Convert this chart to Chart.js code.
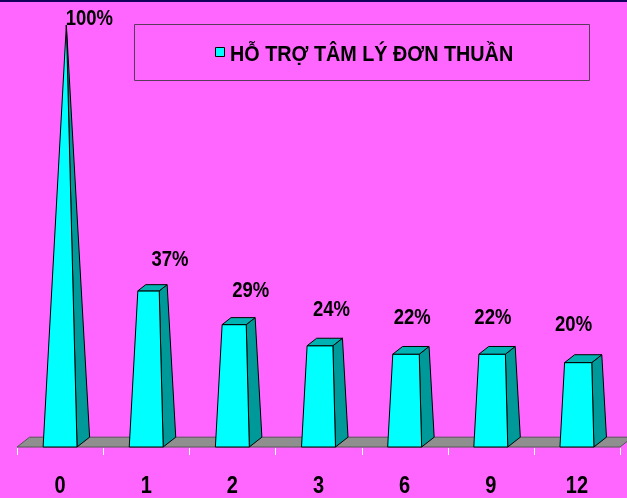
<!DOCTYPE html>
<html>
<head>
<meta charset="utf-8">
<script src="https://cdn.jsdelivr.net/npm/chart.js@4"></script>
<style>
  html, body { margin: 0; padding: 0; background: #FF66FF; }
  #wrap { width: 627px; height: 498px; position: relative; }
</style>
</head>
<body>
<div id="wrap"><canvas id="c" width="627" height="498"></canvas></div>
<script>
// Months of follow-up and share of patients on psychological support alone
const categories = ['0', '1', '2', '3', '6', '9', '12'];
const seriesName = 'HỖ TRỢ TÂM LÝ ĐƠN THUẦN';
const percentValues = [100, 37, 29, 24, 22, 22, 20];

const FONT = "'Liberation Sans', Arial, sans-serif";
const FRONT = '#00FFFF';
const SIDE = '#009999';
const TOP = '#00B2B2';

// Draws the text stretched vertically (tall, condensed look)
function tallText(ctx, text, x, y, size, sy, align) {
  ctx.save();
  ctx.font = 'bold ' + size + 'px ' + FONT;
  ctx.fillStyle = '#000';
  ctx.textAlign = align || 'center';
  ctx.textBaseline = 'alphabetic';
  ctx.translate(x, y);
  ctx.scale(1, sy);
  ctx.fillText(text, 0, 0);
  ctx.restore();
}

function poly(ctx, pts, fill) {
  ctx.beginPath();
  ctx.moveTo(pts[0][0], pts[0][1]);
  for (let i = 1; i < pts.length; i++) ctx.lineTo(pts[i][0], pts[i][1]);
  ctx.closePath();
  ctx.fillStyle = fill;
  ctx.fill();
  ctx.stroke();
}

const lerp = (a, b, t) => [a[0] + (b[0] - a[0]) * t, a[1] + (b[1] - a[1]) * t];

const pyramidPlugin = {
  id: 'pyramid3d',
  beforeDatasetsDraw(chart) {
    const ctx = chart.ctx;
    const xs = chart.scales.x, ys = chart.scales.y;
    const meta = chart.getDatasetMeta(0);
    const W = meta.data[0].width;
    const dx = 0.37 * W, dy = -0.29 * W;
    const y0 = ys.getPixelForValue(0);

    // top band
    ctx.save();
    ctx.fillStyle = '#14005C';
    ctx.fillRect(0, 0, chart.width, 2);

    // floor
    ctx.strokeStyle = '#555555';
    ctx.lineWidth = 1;
    poly(ctx, [[xs.left, y0], [xs.right, y0], [xs.right + dx, y0 + dy], [xs.left + dx, y0 + dy]], '#8F8F8F');

    // category boundary ticks
    ctx.strokeStyle = '#FFFFFF';
    ctx.beginPath();
    for (let i = 0; i <= categories.length; i++) {
      const x = Math.round(xs.left + (xs.right - xs.left) * i / categories.length) + 0.5;
      ctx.moveTo(x, y0 + 1);
      ctx.lineTo(x, y0 + 8);
    }
    ctx.stroke();
    ctx.restore();
  },
  afterDatasetsDraw(chart) {
    const ctx = chart.ctx;
    const xs = chart.scales.x, ys = chart.scales.y;
    const meta = chart.getDatasetMeta(0);
    const ymax = ys.max;
    const apexY = ys.getPixelForValue(ymax);

    ctx.save();
    ctx.strokeStyle = '#000000';
    ctx.lineWidth = 1;
    ctx.lineJoin = 'round';
    meta.data.forEach((el, i) => {
      const v = percentValues[i];
      const W = el.width, cx = el.x, y0 = el.base;
      const dx = 0.37 * W, dy = -0.29 * W;
      const FL = [cx - W / 2, y0], FR = [cx + W / 2, y0];
      const BR = [FR[0] + dx, y0 + dy], BL = [FL[0] + dx, y0 + dy];
      const A = [cx + dx / 2, apexY];
      const t = v / ymax;
      const FLt = lerp(FL, A, t), FRt = lerp(FR, A, t), BRt = lerp(BR, A, t), BLt = lerp(BL, A, t);
      poly(ctx, [FR, BR, BRt, FRt], SIDE);
      poly(ctx, [FL, FR, FRt, FLt], FRONT);
      if (t < 1) poly(ctx, [FLt, FRt, BRt, BLt], TOP);

      // value label
      const lx = 0.937 * cx + 33;
      const ly = 2 + 0.908 * el.y;
      tallText(ctx, v + '%', lx, ly, 18.5, 1.18);
    });

    // category labels
    categories.forEach((c, i) => {
      tallText(ctx, c, xs.getPixelForValue(i), 493, 20, 1.2);
    });

    // legend
    ctx.strokeStyle = '#5A3A5A';
    ctx.strokeRect(134.5, 24.5, 455, 56);
    ctx.strokeStyle = '#000';
    ctx.fillStyle = FRONT;
    ctx.fillRect(215.5, 47.5, 9, 9);
    ctx.strokeRect(215.5, 47.5, 9, 9);
    tallText(ctx, seriesName, 230, 61, 19.8, 1.1, 'left');
    ctx.restore();
  }
};

new Chart(document.getElementById('c'), {
  type: 'bar',
  data: {
    labels: categories,
    datasets: [{
      label: seriesName,
      data: percentValues,
      backgroundColor: 'rgba(0,0,0,0)',
      borderWidth: 0,
      categoryPercentage: 1,
      barPercentage: 0.394
    }]
  },
  options: {
    responsive: false,
    animation: false,
    layout: { padding: { left: 17, right: 7, top: 25, bottom: 51 } },
    plugins: { legend: { display: false }, tooltip: { enabled: false }, title: { display: false } },
    scales: {
      x: { display: false },
      y: { display: false, min: 0, max: 100 }
    }
  },
  plugins: [pyramidPlugin]
});
</script>
</body>
</html>
